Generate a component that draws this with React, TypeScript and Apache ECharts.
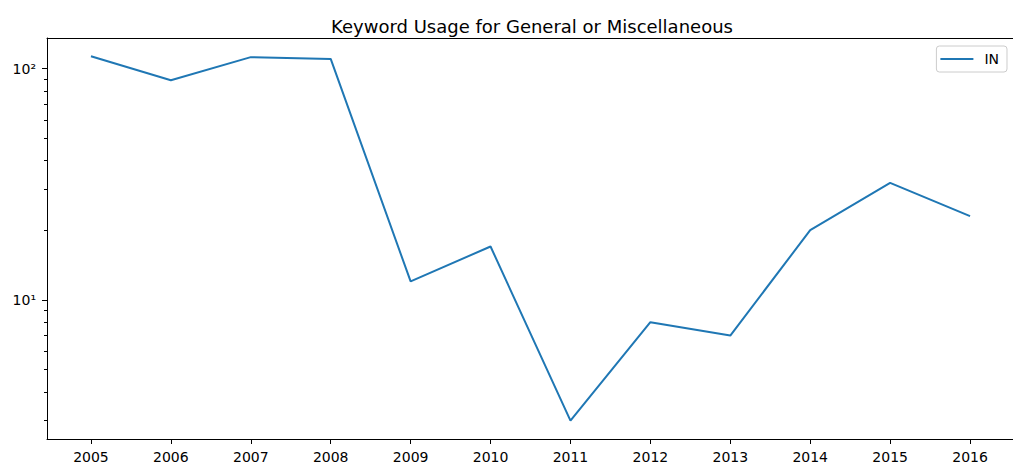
import React, { useEffect, useRef } from "react";
import * as echarts from "echarts";

// Keyword usage counts per year
const years = [2005, 2006, 2007, 2008, 2009, 2010, 2011, 2012, 2013, 2014, 2015, 2016];
const usageIN = [113, 89, 112, 110, 12, 17, 3, 8, 7, 20, 32, 23];

const majorTicks = [10, 100];
const supDigits: Record<string, string> = { "1": "¹", "2": "²", "3": "³", "0": "⁰" };

const FONT = "DejaVu Sans";
const GRID_LEFT = 47;
const GRID_WIDTH = 967;
const X_MIN = 2004.45;
const X_MAX = 2016.55;
const Y_MIN = 2.5;
const Y_MAX = 135.5;

export default function App() {
  const ref = useRef<HTMLDivElement>(null);

  useEffect(() => {
    if (!ref.current) return;
    const chart = echarts.init(ref.current, undefined, { renderer: "svg" });
    const seriesData = years.map((y, i) => [y, usageIN[i]]);

    const axisLineStyle = { color: "#000", width: 1 };

    chart.setOption({
      animation: false,
      backgroundColor: "#fff",
      title: {
        text: "Keyword Usage for General or Miscellaneous",
        left: 527,
        top: 12,
        textAlign: "center",
        textStyle: { fontFamily: FONT, fontSize: 18, fontWeight: "normal", color: "#000" },
      },
      legend: {
        right: 6,
        top: 46,
        orient: "vertical",
        itemWidth: 33,
        itemHeight: 2,
        itemGap: 0,
        padding: [6, 8, 6, 4],
        borderColor: "#ccc",
        borderWidth: 1,
        borderRadius: 3,
        backgroundColor: "rgba(255,255,255,0.8)",
        icon: "rect",
        textStyle: { fontFamily: FONT, fontSize: 14, color: "#000", padding: [0, 0, 0, 6] },
        data: [{ name: "IN", itemStyle: { color: "#1f77b4" } }],
      },
      grid: {
        left: GRID_LEFT,
        top: 38,
        width: GRID_WIDTH,
        height: 401,
        containLabel: false,
        outerBoundsMode: "none",
        show: false,
      },
      xAxis: [
        {
          type: "value",
          min: X_MIN,
          max: X_MAX,
          axisLine: { show: true, onZero: false, lineStyle: axisLineStyle },
          axisTick: { show: true, length: 5, lineStyle: { color: "#000" }, customValues: years },
          axisLabel: {
            customValues: years,
            fontFamily: FONT,
            fontSize: 14,
            color: "#000",
            margin: 11,
            formatter: (v: number) => String(Math.round(v)),
          },
          splitLine: { show: false },
        },
        {
          // top frame edge
          type: "value",
          position: "top",
          min: X_MIN,
          max: X_MAX,
          axisLine: { show: true, onZero: false, lineStyle: axisLineStyle },
          axisTick: { show: false },
          axisLabel: { show: false },
          splitLine: { show: false },
        },
      ],
      yAxis: [
        {
          type: "log",
          logBase: 10,
          min: Y_MIN,
          max: Y_MAX,
          position: "left",
          axisLine: { show: true, onZero: false, lineStyle: axisLineStyle },
          axisTick: { show: true, length: 5, lineStyle: { color: "#000" }, customValues: majorTicks },
          // 2..9 × each decade
          minorTick: { show: true, splitNumber: 9, length: 3, lineStyle: { color: "#000", width: 1 } },
          minorSplitLine: { show: false },
          axisLabel: {
            customValues: majorTicks,
            fontFamily: FONT,
            fontSize: 14,
            color: "#000",
            margin: 11,
            formatter: (v: number) => {
              const exp = String(Math.round(Math.log10(v)));
              return "10" + exp.split("").map((d) => supDigits[d] || d).join("");
            },
          },
          splitLine: { show: false },
        },
      ],
      series: [
        {
          name: "IN",
          type: "line",
          data: seriesData,
          xAxisIndex: 0,
          yAxisIndex: 0,
          showSymbol: false,
          symbol: "none",
          lineStyle: { color: "#1f77b4", width: 2 },
          itemStyle: { color: "#1f77b4" },
        },
      ],
    });

    return () => chart.dispose();
  }, []);

  return (
    <div
      ref={ref}
      style={{ position: "fixed", left: 0, top: 0, width: 1013, height: 476, background: "#fff" }}
    />
  );
}
